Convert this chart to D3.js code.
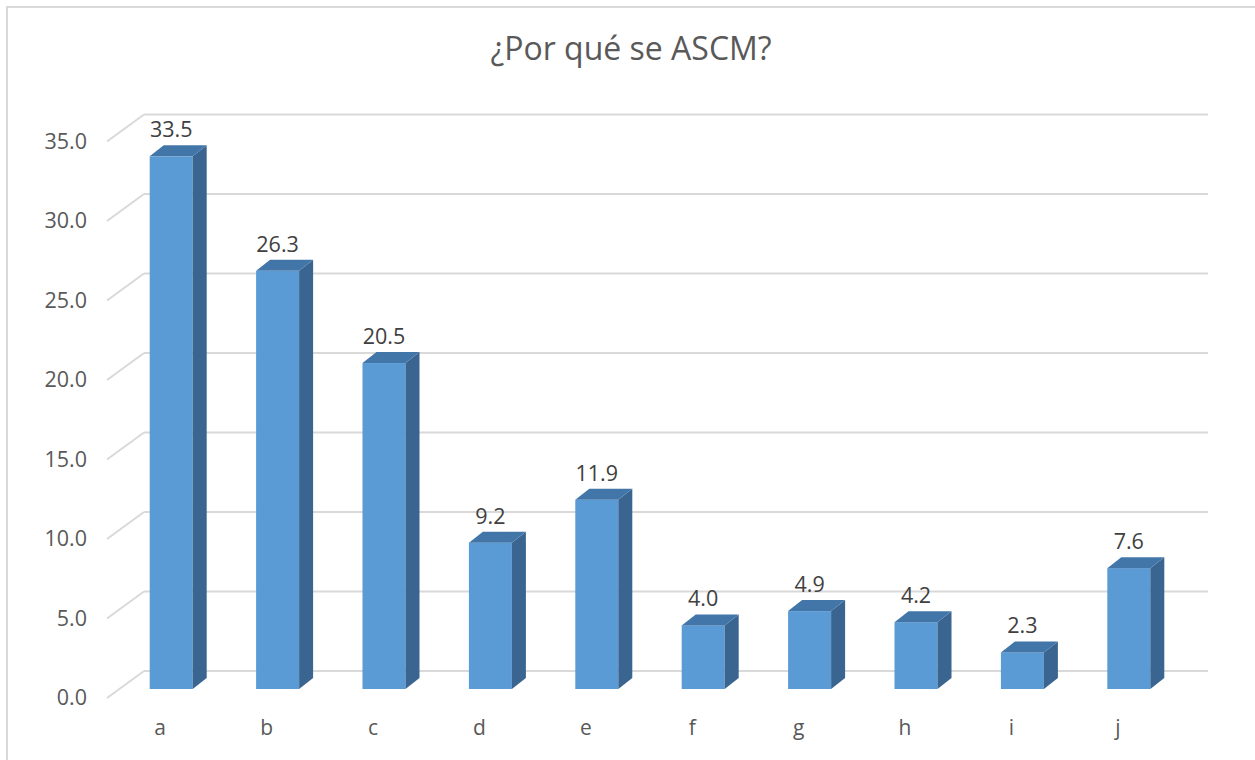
<!DOCTYPE html>
<html>
<head>
<meta charset="utf-8">
<script src="https://cdn.jsdelivr.net/npm/d3@7"></script>
<style>
  body { margin: 0; background: #fff; }
  text { font-family: "Open Sans", sans-serif; fill: #595959; }
</style>
</head>
<body>
<svg width="1255" height="760"></svg>
<script>
const categories = ['a', 'b', 'c', 'd', 'e', 'f', 'g', 'h', 'i', 'j'];
const values = [33.5, 26.3, 20.5, 9.2, 11.9, 4.0, 4.9, 4.2, 2.3, 7.6];
const ticks = [0, 5, 10, 15, 20, 25, 30, 35];

const svg = d3.select('svg');

// chart frame (runs off the right and bottom edge)
svg.append('rect')
  .attr('x', 7).attr('y', 7)
  .attr('width', 1300).attr('height', 800)
  .attr('fill', '#fff')
  .attr('stroke', '#d9d9d9')
  .attr('stroke-width', 2);

svg.append('text')
  .attr('x', 631).attr('y', 60)
  .attr('text-anchor', 'middle')
  .attr('font-size', '32px')
  .text('¿Por qué se ASCM?');

// 3D offsets: floor depth and bar depth
const depth = { dx: 37, dy: 27 };
const barDepth = { dx: 14, dy: 11 };

const x = d3.scaleBand()
  .domain(categories)
  .range([107, 1171]);

// y for the front edge of the floor
const yFront = d3.scaleLinear().domain([0, 35]).range([698, 141.5]);
const k = yFront(0) - yFront(1);

// back wall gridlines + diagonal side-wall lines
const grid = svg.append('g').attr('stroke', '#d9d9d9').attr('stroke-width', 2).attr('fill', 'none');
grid.selectAll('.back')
  .data(ticks)
  .enter()
  .append('line')
  .attr('x1', 107 + depth.dx)
  .attr('x2', 1171 + depth.dx)
  .attr('y1', (d) => yFront(d) - depth.dy)
  .attr('y2', (d) => yFront(d) - depth.dy);
grid.selectAll('.side')
  .data(ticks)
  .enter()
  .append('line')
  .attr('x1', 107)
  .attr('x2', 107 + depth.dx)
  .attr('y1', (d) => yFront(d))
  .attr('y2', (d) => yFront(d) - depth.dy);

// tick labels
svg.selectAll('.tick-label')
  .data(ticks)
  .enter()
  .append('text')
  .attr('x', 87)
  .attr('y', (d) => yFront(d) + 7)
  .attr('text-anchor', 'end')
  .attr('font-size', '21.5px')
  .text((d) => d3.format('.1f')(d));

// bars sit in the middle of the floor depth
const barW = 43;
const base = 689;
const barX = (c) => x(c) + x.bandwidth() / 2 + 11 - barW / 2;
const barY = (v) => base - v * k;

const bars = svg.selectAll('.bar')
  .data(categories.map((c, i) => ({ c, v: values[i] })))
  .enter()
  .append('g')
  .attr('class', 'bar');

bars.append('rect')
  .attr('x', (d) => barX(d.c))
  .attr('y', (d) => barY(d.v))
  .attr('width', barW)
  .attr('height', (d) => base - barY(d.v))
  .attr('fill', '#5b9bd5');

bars.append('path')
  .attr('fill', '#3a6590')
  .attr('d', (d) => {
    const x0 = barX(d.c) + barW, y0 = barY(d.v);
    return `M${x0},${y0}L${x0 + barDepth.dx},${y0 - barDepth.dy}L${x0 + barDepth.dx},${base - barDepth.dy}L${x0},${base}Z`;
  });

bars.append('path')
  .attr('fill', '#4376a8')
  .attr('d', (d) => {
    const x0 = barX(d.c), y0 = barY(d.v);
    return `M${x0},${y0}L${x0 + barDepth.dx},${y0 - barDepth.dy}L${x0 + barW + barDepth.dx},${y0 - barDepth.dy}L${x0 + barW},${y0}Z`;
  });

// value labels
bars.append('text')
  .attr('x', (d) => barX(d.c) + barW / 2)
  .attr('y', (d) => barY(d.v) - barDepth.dy - 8)
  .attr('text-anchor', 'middle')
  .attr('font-size', '21.5px')
  .style('fill', '#404040')
  .text((d) => d3.format('.1f')(d.v));

// category labels
svg.selectAll('.cat')
  .data(categories)
  .enter()
  .append('text')
  .attr('x', (d) => x(d) + x.bandwidth() / 2)
  .attr('y', 735)
  .attr('text-anchor', 'middle')
  .attr('font-size', '21px')
  .text((d) => d);
</script>
</body>
</html>
